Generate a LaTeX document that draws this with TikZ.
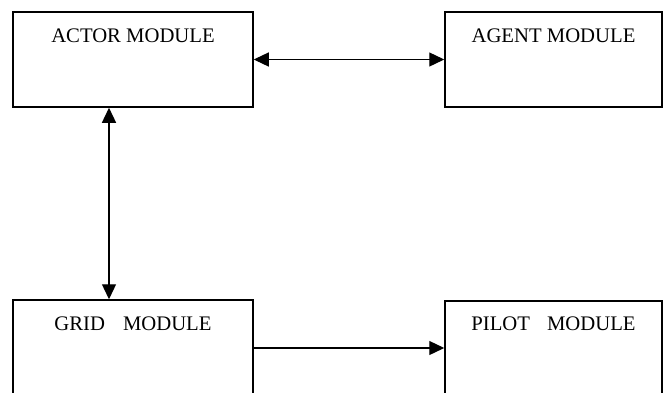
\documentclass[tikz,border=0pt]{standalone}
\usepackage{fontspec}
\setmainfont{Liberation Serif}
\usetikzlibrary{arrows.meta}

\tikzset{
  modbox/.style={draw, line width=1.5pt, minimum width=240pt, inner sep=0pt},
  modlabel/.style={inner sep=0.75pt, font=\fontsize{20.7}{24}\selectfont},
  link/.style={line width=1.3pt, {Triangle[length=15pt,width=14pt]}-{Triangle[length=15pt,width=14pt]}},
  onelink/.style={line width=1.3pt, -{Triangle[length=15pt,width=14pt]}}
}

\begin{document}
\begin{tikzpicture}[x=1pt,y=1pt,yscale=-1,xscale=1]
		\useasboundingbox (0,0) rectangle (667,392);
		\clip (0,0) rectangle (667,392);

		% The four module boxes
		\node[modbox, minimum width=240pt, minimum height=95pt] (actor) at (133,59.5) {};
		\node[modbox, minimum width=217pt, minimum height=95pt] (agent) at (553.5,59.5) {};
		\node[modbox, minimum width=240pt, minimum height=96pt] (grid) at (133,348) {};
		\node[modbox, minimum width=217pt, minimum height=94pt] (pilot) at (553.5,348) {};

		% Module names near the top of each box
		\node[modlabel] (actorname) at (133,36) {ACTOR MODULE};
		\node[modlabel] (agentname) at (553.5,36) {AGENT MODULE};
		\node[modlabel] (gridname) at (133,324) {GRID\hspace{18pt}MODULE};
		\node[modlabel] (pilotname) at (553.5,324) {PILOT\hspace{17pt}MODULE};

		% Connectors between modules
		\draw[link] (actor.east) -- (agent.west);
		\draw[link] ([xshift=-24pt]actor.south) -- ([xshift=-24pt]grid.north);
		\draw[onelink] (grid.east) -- (pilot.west);
	\end{tikzpicture}
\end{document}
